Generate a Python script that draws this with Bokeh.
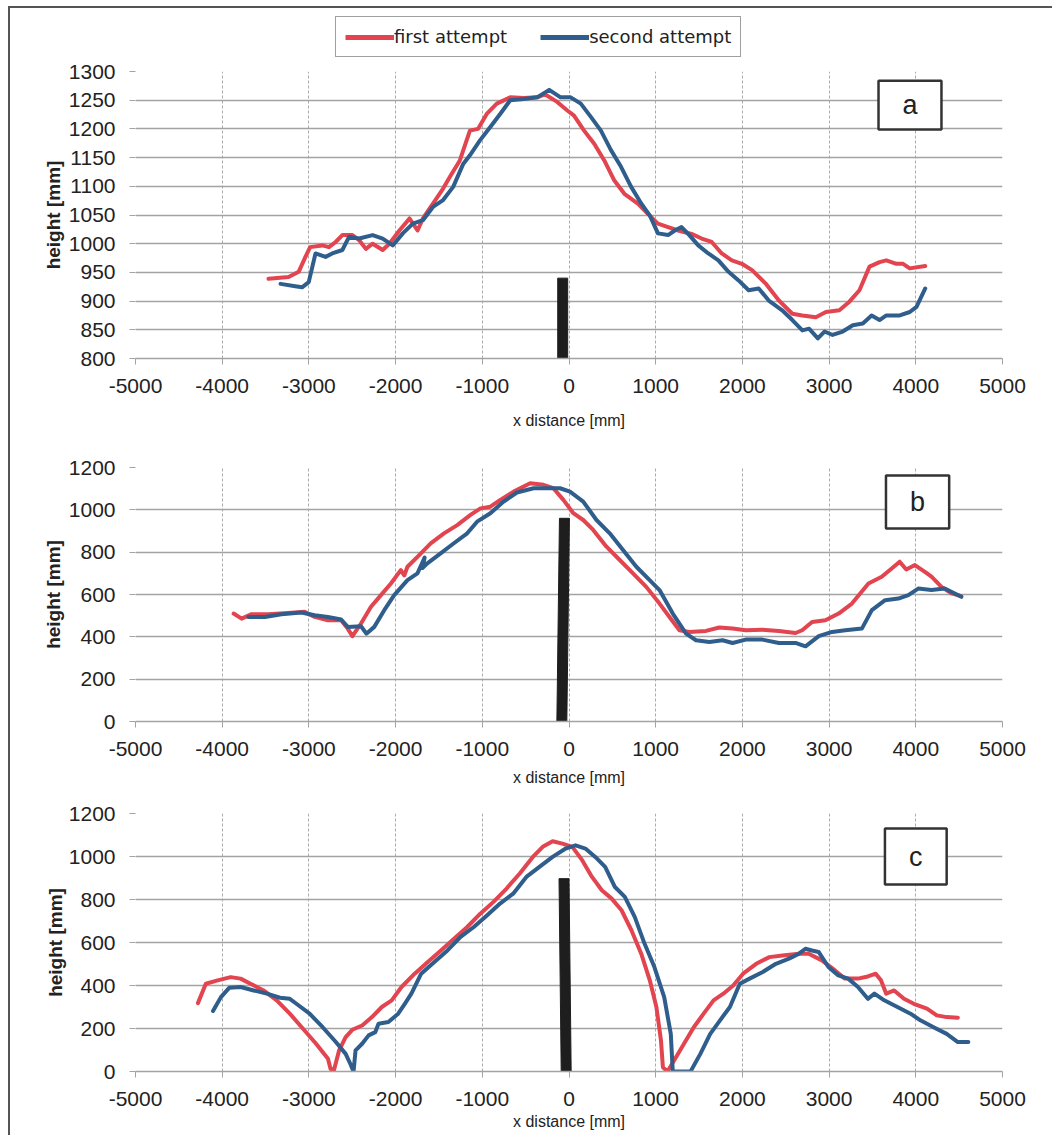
from bokeh.plotting import figure
from bokeh.layouts import column
from bokeh.models import Legend, LegendItem, BoxAnnotation, Label, FixedTicker
from bokeh.embed import file_html
from bokeh.resources import INLINE

# ---------------- data ----------------
x_ticks = [-5000, -4000, -3000, -2000, -1000, 0, 1000, 2000, 3000, 4000, 5000]
x_tick_labels = ["-5000", "-4000", "-3000", "-2000", "-1000", "0", "1000", "2000", "3000", "4000", "5000"]
y_ticks_a = [800, 850, 900, 950, 1000, 1050, 1100, 1150, 1200, 1250, 1300]
y_ticks_bc = [0, 200, 400, 600, 800, 1000, 1200]
series_names = ["first attempt", "second attempt"]
panel_labels = ["a", "b", "c"]

a_first = [(-3466, 939), (-3234, 942), (-3118, 951), (-3040, 977), (-2986, 994), (-2847, 997), (-2769, 994),
           (-2692, 1003), (-2614, 1015), (-2498, 1015), (-2420, 1006), (-2343, 991), (-2265, 1000), (-2149, 989),
           (-2072, 1000), (-1956, 1023), (-1840, 1044), (-1747, 1023), (-1685, 1044), (-1569, 1070), (-1452, 1096),
           (-1375, 1116), (-1259, 1145), (-1181, 1180), (-1143, 1197), (-1050, 1200), (-949, 1226), (-833, 1244),
           (-678, 1255), (-523, 1254), (-368, 1255), (-275, 1260), (-136, 1247), (-19, 1232), (58, 1223),
           (174, 1197), (291, 1174), (407, 1145), (523, 1110), (639, 1087), (794, 1070), (910, 1052), (1026, 1035),
           (1143, 1029), (1259, 1023), (1414, 1017), (1530, 1009), (1646, 1003), (1762, 983), (1878, 971),
           (1994, 965), (2111, 954), (2266, 931), (2421, 901), (2576, 878), (2692, 875), (2847, 872), (2963, 881),
           (3118, 884), (3234, 899), (3350, 919), (3466, 960), (3582, 968), (3660, 971), (3776, 965), (3853, 965),
           (3931, 957), (4109, 961)]
a_second = [(-3327, 930), (-3157, 926), (-3079, 924), (-3002, 933), (-2924, 983), (-2808, 977), (-2731, 983),
            (-2614, 989), (-2537, 1012), (-2420, 1009), (-2265, 1015), (-2149, 1009), (-2033, 997), (-1917, 1018),
            (-1801, 1035), (-1685, 1041), (-1569, 1064), (-1452, 1076), (-1336, 1099), (-1220, 1139), (-1143, 1154),
            (-1027, 1180), (-910, 1203), (-794, 1226), (-678, 1250), (-523, 1252), (-368, 1255), (-228, 1268),
            (-97, 1255), (19, 1255), (136, 1244), (252, 1221), (368, 1197), (484, 1163), (600, 1134), (717, 1099),
            (833, 1070), (933, 1049), (1026, 1018), (1143, 1015), (1220, 1023), (1298, 1029), (1375, 1017),
            (1491, 997), (1607, 983), (1723, 971), (1840, 951), (1956, 936), (2072, 919), (2188, 922), (2304, 901),
            (2459, 884), (2576, 867), (2692, 849), (2769, 852), (2870, 835), (2947, 847), (3040, 841), (3157, 847),
            (3273, 858), (3389, 861), (3490, 875), (3582, 867), (3660, 875), (3815, 875), (3931, 881), (4008, 890),
            (4109, 922)]

b_first = [(-3868, 510), (-3776, 486), (-3661, 507), (-3470, 507), (-3240, 513), (-3049, 518), (-2934, 494),
           (-2781, 478), (-2628, 478), (-2552, 439), (-2498, 403), (-2399, 463), (-2284, 542), (-2169, 597),
           (-2054, 652), (-1940, 715), (-1900, 690), (-1863, 731), (-1748, 778), (-1595, 842), (-1442, 889),
           (-1289, 928), (-1136, 976), (-1021, 1007), (-907, 1015), (-792, 1047), (-639, 1086), (-448, 1126),
           (-295, 1118), (-180, 1102), (-65, 1047), (50, 984), (164, 952), (279, 905), (432, 826), (585, 763),
           (738, 700), (891, 636), (1044, 557), (1159, 494), (1274, 431), (1389, 423), (1580, 428), (1733, 444),
           (1886, 439), (2039, 431), (2230, 434), (2421, 428), (2613, 418), (2689, 431), (2804, 470), (2957, 478),
           (3110, 510), (3263, 557), (3454, 652), (3607, 684), (3722, 723), (3814, 755), (3890, 718), (3990, 739),
           (4105, 707), (4181, 684), (4296, 636), (4411, 605), (4525, 592)]
b_second = [(-3699, 494), (-3508, 494), (-3317, 507), (-3087, 515), (-2934, 502), (-2781, 494), (-2628, 482),
            (-2552, 447), (-2399, 450), (-2337, 415), (-2246, 447), (-2131, 526), (-2016, 597), (-1863, 668),
            (-1748, 700), (-1665, 775), (-1690, 725), (-1634, 747), (-1481, 794), (-1328, 842), (-1174, 889),
            (-1060, 944), (-907, 984), (-754, 1039), (-601, 1082), (-409, 1102), (-218, 1102), (-103, 1102),
            (11, 1086), (164, 1039), (317, 952), (470, 889), (623, 810), (777, 731), (930, 668), (1044, 621),
            (1197, 510), (1350, 415), (1465, 384), (1618, 376), (1771, 384), (1886, 371), (2039, 387), (2230, 387),
            (2421, 371), (2613, 371), (2728, 355), (2881, 403), (3034, 423), (3187, 431), (3378, 439), (3493, 526),
            (3646, 573), (3799, 581), (3914, 597), (4028, 628), (4181, 621), (4334, 628), (4525, 589)]

c_first = [(-4280, 318), (-4189, 408), (-4053, 424), (-3902, 439), (-3788, 432), (-3674, 408), (-3523, 377),
           (-3371, 331), (-3220, 269), (-3068, 199), (-2917, 129), (-2780, 59), (-2750, 12), (-2712, 5),
           (-2652, 98), (-2576, 160), (-2500, 194), (-2386, 214), (-2273, 253), (-2159, 300), (-2045, 331),
           (-1932, 393), (-1780, 455), (-1629, 509), (-1477, 563), (-1326, 618), (-1174, 672), (-1023, 734),
           (-871, 789), (-720, 851), (-568, 921), (-417, 998), (-303, 1045), (-189, 1071), (-76, 1060), (38, 1045),
           (152, 983), (265, 905), (379, 843), (492, 804), (606, 750), (720, 657), (833, 548), (932, 424),
           (1008, 300), (1061, 144), (1083, 20), (1136, 0), (1212, 51), (1326, 129), (1439, 206), (1553, 269),
           (1667, 331), (1780, 362), (1894, 400), (2008, 455), (2159, 501), (2311, 532), (2462, 540), (2652, 548),
           (2765, 548), (2917, 517), (3068, 470), (3182, 432), (3333, 432), (3447, 442), (3538, 455), (3598, 424),
           (3659, 362), (3750, 377), (3864, 338), (3977, 315), (4129, 292), (4242, 261), (4356, 253), (4485, 250)]
c_second = [(-4106, 281), (-4015, 346), (-3917, 390), (-3788, 393), (-3636, 377), (-3485, 362), (-3333, 343),
            (-3220, 338), (-3144, 315), (-2992, 269), (-2841, 206), (-2689, 137), (-2576, 82), (-2523, 36),
            (-2485, 0), (-2462, 98), (-2386, 129), (-2311, 168), (-2235, 183), (-2197, 222), (-2083, 230),
            (-1970, 269), (-1894, 315), (-1818, 362), (-1705, 455), (-1553, 509), (-1402, 563), (-1250, 626),
            (-1098, 672), (-947, 726), (-795, 781), (-644, 827), (-492, 905), (-341, 952), (-189, 998), (-38, 1037),
            (76, 1052), (189, 1037), (303, 998), (417, 952), (530, 858), (644, 812), (758, 719), (871, 595),
            (985, 486), (1098, 346), (1174, 175), (1197, 0), (1402, 0), (1515, 82), (1629, 175), (1742, 238),
            (1856, 300), (1970, 408), (2083, 432), (2235, 463), (2386, 501), (2538, 525), (2652, 548), (2727, 571),
            (2803, 563), (2879, 556), (2992, 486), (3106, 447), (3220, 432), (3333, 393), (3447, 338), (3523, 362),
            (3636, 331), (3788, 300), (3939, 269), (4053, 238), (4205, 206), (4356, 175), (4485, 137), (4606, 137)]

# black marker bars (x corners, y corners)
bar_a_x = [-130, -15, -15, -130]
bar_a_y = [800, 800, 940, 940]
bar_b_x = [-140, -25, 5, -110]
bar_b_y = [0, 0, 960, 960]
bar_c_x = [-90, 25, 0, -115]
bar_c_y = [0, 0, 897, 897]

# ---------------- styling ----------------
RED = "#E24450"
BLUE = "#2F5E8C"
GRID_H = "#A3A3A3"
GRID_V = "#ABABAB"
TXT = "#222222"
W = 1042


def make_panel(height, mb_left, mb_top, mb_bottom, frame_w, y_range, y_ticks,
               first, second, bar_x, bar_y, box, lab, title_standoff, ylab_standoff):
    p = figure(width=W, height=height, x_range=(-5000, 5000), y_range=y_range,
               output_backend="svg", toolbar_location=None,
               min_border_left=mb_left, min_border_right=W - mb_left - frame_w,
               min_border_top=mb_top, min_border_bottom=mb_bottom)
    p.outline_line_color = None
    p.background_fill_color = "white"
    p.border_fill_color = "white"

    p.xaxis.ticker = FixedTicker(ticks=x_ticks)
    p.xaxis.major_label_overrides = {t: s for t, s in zip(x_ticks, x_tick_labels)}
    p.yaxis.ticker = FixedTicker(ticks=y_ticks)
    p.yaxis.major_label_overrides = {t: str(t) for t in y_ticks}
    p.xgrid.ticker = FixedTicker(ticks=x_ticks)
    p.ygrid.ticker = FixedTicker(ticks=y_ticks)

    p.xgrid.grid_line_color = GRID_V
    p.xgrid.grid_line_dash = "3 2"
    p.xgrid.grid_line_width = 1
    p.ygrid.grid_line_color = GRID_H
    p.ygrid.grid_line_width = 1.6

    for ax in (p.xaxis, p.yaxis):
        ax.major_tick_out = 6
        ax.major_tick_in = 0
        ax.minor_tick_line_color = None
        ax.major_tick_line_color = GRID_H
        ax.major_label_text_font = "Liberation Sans"
        ax.major_label_text_font_size = "21px"
        ax.major_label_text_color = TXT
    p.yaxis.axis_line_color = None
    p.xaxis.axis_line_color = GRID_H
    p.xaxis.axis_line_width = 1.6
    p.xaxis.major_label_standoff = 14
    p.yaxis.major_label_standoff = 14

    p.xaxis.axis_label = "x distance [mm]"
    p.xaxis.axis_label_text_font = "Liberation Sans"
    p.xaxis.axis_label_text_font_size = "16px"
    p.xaxis.axis_label_text_font_style = "normal"
    p.xaxis.axis_label_text_color = TXT
    p.xaxis.axis_label_standoff = title_standoff

    p.yaxis.axis_label = "height [mm]"
    p.yaxis.axis_label_text_font = "Liberation Sans"
    p.yaxis.axis_label_text_font_size = "19px"
    p.yaxis.axis_label_text_font_style = "bold"
    p.yaxis.axis_label_text_color = TXT
    p.yaxis.axis_label_standoff = ylab_standoff

    p.patch(bar_x, bar_y, color="#1E1E1E")
    fx, fy = zip(*first)
    sx, sy = zip(*second)
    p.line(list(fx), list(fy), line_color=RED, line_width=4, line_join="round", line_cap="round")
    p.line(list(sx), list(sy), line_color=BLUE, line_width=4, line_join="round", line_cap="round")

    left, right, bottom, top = box
    p.add_layout(BoxAnnotation(left=left, right=right, bottom=bottom, top=top,
                               fill_color="white", fill_alpha=1.0,
                               line_color="#333333", line_alpha=1.0, line_width=2.5,
                               level="annotation"))
    p.add_layout(Label(x=(left + right) / 2, y=(bottom + top) / 2, text=lab,
                       text_align="center", text_baseline="middle",
                       text_font="Liberation Sans", text_font_size="27px",
                       text_color=TXT, level="annotation"))
    return p


# legend strip above panel a (its sample lines lie outside the strip's visible range)
p0 = figure(width=W, height=50, x_range=(0, 1), y_range=(0, 1), x_axis_type=None, y_axis_type=None,
            output_backend="svg", toolbar_location=None,
            min_border_left=0, min_border_right=0, min_border_top=0, min_border_bottom=0)
p0.outline_line_color = None
p0.grid.visible = False
l1 = p0.line([-5, -4], [-5, -4], line_color=RED, line_width=5)
l2 = p0.line([-5, -4], [-5, -4], line_color=BLUE, line_width=5)
legend = Legend(items=[LegendItem(label=series_names[0], renderers=[l1]),
                       LegendItem(label=series_names[1], renderers=[l2])],
                orientation="horizontal", location=(200, 1),
                label_text_font="DejaVu Sans", label_text_font_size="18px", label_text_color=TXT,
                glyph_width=49, glyph_height=20, label_standoff=0, spacing=33,
                padding=9, margin=0, border_line_color="#404040", border_line_width=1.5,
                background_fill_color="white", background_fill_alpha=1.0)
p0.add_layout(legend, "center")

p1 = make_panel(376, 125, 13, 76, 867, (800, 1300), y_ticks_a, a_first, a_second,
                bar_a_x, bar_a_y, (3570, 4296, 1199, 1284), panel_labels[0], 16, 2)
p2 = make_panel(355, 123, 33, 68, 878, (0, 1200), y_ticks_bc, b_first, b_second,
                bar_b_x, bar_b_y, (3656, 4385, 912, 1162), panel_labels[1], 10, 2)
p3 = make_panel(346, 115, 24, 64, 885, (0, 1200), y_ticks_bc, c_first, c_second,
                bar_c_x, bar_c_y, (3644, 4356, 870, 1130), panel_labels[2], 4, 0)

layout = column(p0, p1, p2, p3, spacing=0, margin=(6, 0, 0, 8),
                styles={"border-left": "2px solid #555555", "border-top": "2px solid #555555"})

open("out.html", "w").write(file_html(layout, INLINE))
